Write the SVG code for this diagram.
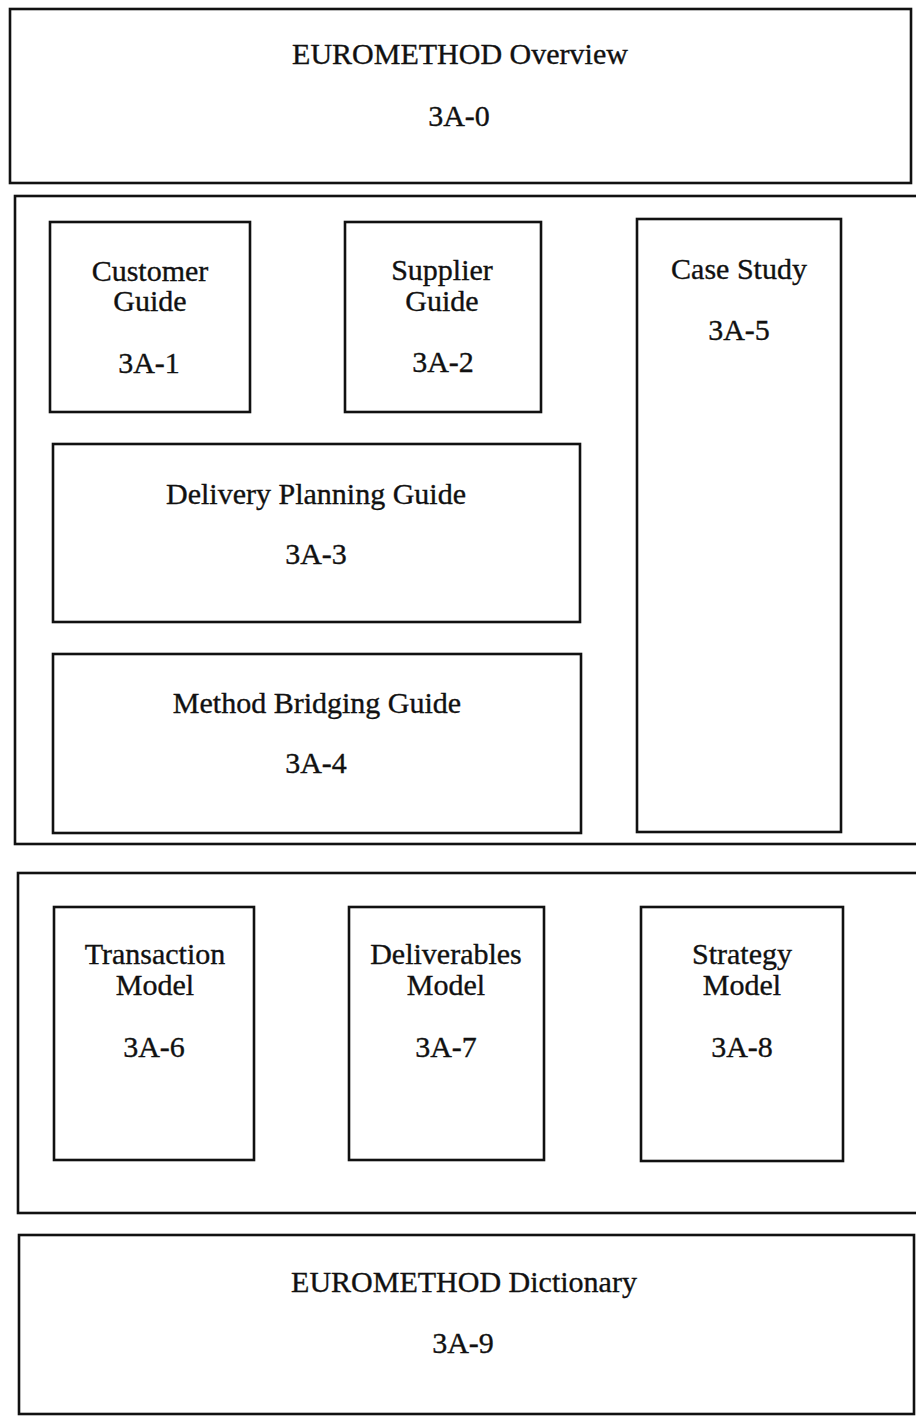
<svg xmlns="http://www.w3.org/2000/svg" width="916" height="1423" viewBox="0 0 916 1423">
<style>
rect.box{fill:none;stroke:#111;stroke-width:2.6}
text{font-family:"Liberation Serif","Times New Roman",serif;font-size:30px;fill:#111;stroke:#111;stroke-width:0.35;text-anchor:middle}
</style>
<rect x="0" y="0" width="916" height="1423" fill="#fff"/>
<g id="overview">
<rect class="box" x="10" y="9" width="901" height="174"/>
<text x="460" y="64">EUROMETHOD Overview</text>
<text x="459" y="126">3A-0</text>
</g>
<g id="guides-group">
<rect class="box" x="15" y="196" width="910" height="648"/>
</g>
<g id="customer-guide">
<rect class="box" x="50" y="222" width="200" height="190"/>
<text x="150" y="281">Customer</text>
<text x="150" y="311">Guide</text>
<text x="149" y="373">3A-1</text>
</g>
<g id="supplier-guide">
<rect class="box" x="345" y="222" width="196" height="190"/>
<text x="442" y="280">Supplier</text>
<text x="442" y="311">Guide</text>
<text x="443" y="372">3A-2</text>
</g>
<g id="case-study">
<rect class="box" x="637" y="219" width="204" height="613"/>
<text x="739" y="279">Case Study</text>
<text x="739" y="340">3A-5</text>
</g>
<g id="delivery-planning-guide">
<rect class="box" x="53" y="444" width="527" height="178"/>
<text x="316" y="504">Delivery Planning Guide</text>
<text x="316" y="564">3A-3</text>
</g>
<g id="method-bridging-guide">
<rect class="box" x="53" y="654" width="528" height="179"/>
<text x="317" y="713">Method Bridging Guide</text>
<text x="316" y="773">3A-4</text>
</g>
<g id="models-group">
<rect class="box" x="18" y="873" width="910" height="340"/>
</g>
<g id="transaction-model">
<rect class="box" x="54" y="907" width="200" height="253"/>
<text x="155" y="964">Transaction</text>
<text x="155" y="995">Model</text>
<text x="154" y="1057">3A-6</text>
</g>
<g id="deliverables-model">
<rect class="box" x="349" y="907" width="195" height="253"/>
<text x="446" y="964">Deliverables</text>
<text x="446" y="995">Model</text>
<text x="446" y="1057">3A-7</text>
</g>
<g id="strategy-model">
<rect class="box" x="641" y="907" width="202" height="254"/>
<text x="742" y="964">Strategy</text>
<text x="742" y="995">Model</text>
<text x="742" y="1057">3A-8</text>
</g>
<g id="dictionary">
<rect class="box" x="19" y="1235" width="895" height="179"/>
<text x="464" y="1292">EUROMETHOD Dictionary</text>
<text x="463" y="1353">3A-9</text>
</g>
<g id="connectors"></g>
</svg>
